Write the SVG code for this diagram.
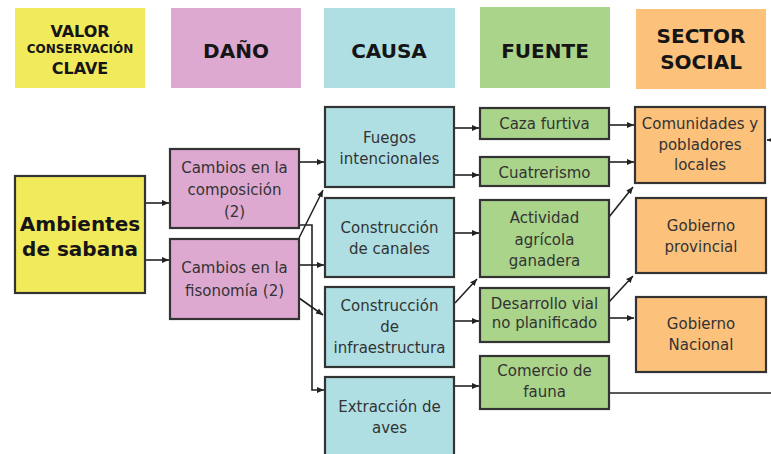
<svg xmlns="http://www.w3.org/2000/svg" width="771" height="454" viewBox="0 0 771 454">
<defs>
<marker id="ah" markerWidth="8" markerHeight="8" refX="7" refY="4" orient="auto" markerUnits="userSpaceOnUse">
<path d="M0,1 L7,4 L0,7 Z" fill="#222"/>
</marker>
<style>
.hd{font-family:"DejaVu Sans",Verdana,sans-serif;font-weight:bold;fill:#151515;text-anchor:middle}
.nd{stroke:#333;stroke-width:2.2}
.t{font-family:"DejaVu Sans",Verdana,sans-serif;font-size:15px;fill:#333;text-anchor:middle}
.y{fill:#F1EA5B}.p{fill:#DEA9D1}.c{fill:#AFDFE3}.g{fill:#A9D48A}.o{fill:#FCC17B}
.ln{fill:none;stroke:#222;stroke-width:1.6}
.ar{fill:none;stroke:#222;stroke-width:1.6;marker-end:url(#ah)}
</style>
</defs>
<rect width="771" height="454" fill="#fff"/>
<g id="headers">
<g id="h-valor"><rect x="15" y="8" width="130" height="80" class="y"/>
<text class="hd" x="80" y="37" font-size="16">VALOR</text>
<text class="hd" x="80" y="52.5" font-size="12">CONSERVACIÓN</text>
<text class="hd" x="80" y="74" font-size="16">CLAVE</text></g>
<g id="h-dano"><rect x="171" y="8" width="130" height="80" class="p"/>
<text class="hd" x="236" y="58" font-size="20">DAÑO</text></g>
<g id="h-causa"><rect x="324" y="8" width="131" height="80" class="c"/>
<text class="hd" x="389" y="58" font-size="20">CAUSA</text></g>
<g id="h-fuente"><rect x="480" y="7" width="130" height="81" class="g"/>
<text class="hd" x="545" y="58" font-size="20">FUENTE</text></g>
<g id="h-sector"><rect x="636" y="9" width="130" height="80" class="o"/>
<text class="hd" x="701" y="43" font-size="20">SECTOR</text>
<text class="hd" x="701" y="69" font-size="20">SOCIAL</text></g>
</g>
<g id="connectors">
<line class="ar" x1="145" y1="203" x2="169" y2="203"/>
<line class="ar" x1="145" y1="260" x2="169" y2="260"/>
<line class="ar" x1="299" y1="162" x2="324" y2="162"/>
<line class="ar" x1="299" y1="238" x2="323" y2="190"/>
<polyline class="ar" points="299,225 312,225 312,390 324,390"/>
<line class="ar" x1="299" y1="265" x2="324" y2="265"/>
<line class="ar" x1="299" y1="298" x2="323" y2="315"/>
<line class="ar" x1="454" y1="128" x2="479" y2="128"/>
<line class="ar" x1="454" y1="175" x2="479" y2="175"/>
<line class="ar" x1="454" y1="233" x2="479" y2="233"/>
<line class="ar" x1="455" y1="303" x2="477" y2="279"/>
<line class="ar" x1="454" y1="321" x2="479" y2="321"/>
<line class="ar" x1="454" y1="386" x2="479" y2="386"/>
<line class="ar" x1="609" y1="125" x2="634" y2="125"/>
<line class="ar" x1="609" y1="162" x2="634" y2="162"/>
<line class="ar" x1="609" y1="217" x2="633" y2="187"/>
<line class="ar" x1="609" y1="302" x2="633" y2="276"/>
<line class="ar" x1="609" y1="318" x2="634" y2="318"/>
<line class="ln" x1="609" y1="393" x2="771" y2="393"/>
<line class="ar" x1="775" y1="140" x2="767" y2="140"/>
</g>
<g id="n-ambientes"><rect x="15" y="176" width="130" height="117" class="nd y"/>
<text x="80" y="231" font-family="DejaVu Sans,Verdana,sans-serif" font-weight="bold" font-size="20" fill="#151515" text-anchor="middle">Ambientes</text>
<text x="80" y="256" font-family="DejaVu Sans,Verdana,sans-serif" font-weight="bold" font-size="20" fill="#151515" text-anchor="middle">de sabana</text></g>
<g id="n-composicion"><rect x="170" y="149" width="129" height="79" class="nd p"/>
<text class="t" x="234.5" y="173">Cambios en la</text>
<text class="t" x="234.5" y="195">composición</text>
<text class="t" x="234.5" y="217">(2)</text></g>
<g id="n-fisonomia"><rect x="170" y="239" width="129" height="80" class="nd p"/>
<text class="t" x="234.5" y="273">Cambios en la</text>
<text class="t" x="234.5" y="296">fisonomía (2)</text></g>
<g id="n-fuegos"><rect x="325" y="107" width="129" height="80" class="nd c"/>
<text class="t" x="389.5" y="143">Fuegos</text>
<text class="t" x="389.5" y="164">intencionales</text></g>
<g id="n-canales"><rect x="325" y="198" width="129" height="79" class="nd c"/>
<text class="t" x="389.5" y="233">Construcción</text>
<text class="t" x="389.5" y="254">de canales</text></g>
<g id="n-infraestructura"><rect x="325" y="287" width="129" height="80" class="nd c"/>
<text class="t" x="389.5" y="311">Construcción</text>
<text class="t" x="389.5" y="332">de</text>
<text class="t" x="389.5" y="353">infraestructura</text></g>
<g id="n-aves"><rect x="325" y="377" width="129" height="85" class="nd c"/>
<text class="t" x="389.5" y="412">Extracción de</text>
<text class="t" x="389.5" y="433">aves</text></g>
<g id="n-caza"><rect x="480" y="108" width="129" height="31" class="nd g"/>
<text class="t" x="544.5" y="129">Caza furtiva</text></g>
<g id="n-cuatrerismo"><rect x="480" y="157" width="129" height="29" class="nd g"/>
<text class="t" x="544.5" y="178">Cuatrerismo</text></g>
<g id="n-actividad"><rect x="480" y="200" width="129" height="77" class="nd g"/>
<text class="t" x="544.5" y="223">Actividad</text>
<text class="t" x="544.5" y="245">agrícola</text>
<text class="t" x="544.5" y="266">ganadera</text></g>
<g id="n-vial"><rect x="480" y="288" width="129" height="54" class="nd g"/>
<text class="t" x="544.5" y="309">Desarrollo vial</text>
<text class="t" x="544.5" y="328">no planificado</text></g>
<g id="n-comercio"><rect x="480" y="356" width="129" height="53" class="nd g"/>
<text class="t" x="544.5" y="376">Comercio de</text>
<text class="t" x="544.5" y="397">fauna</text></g>
<g id="n-comunidades"><rect x="635" y="107" width="130" height="76" class="nd o"/>
<text class="t" x="700" y="129">Comunidades y</text>
<text class="t" x="700" y="150">pobladores</text>
<text class="t" x="700" y="170">locales</text></g>
<g id="n-provincial"><rect x="636" y="198" width="130" height="75" class="nd o"/>
<text class="t" x="701" y="231">Gobierno</text>
<text class="t" x="701" y="252">provincial</text></g>
<g id="n-nacional"><rect x="636" y="297" width="130" height="75" class="nd o"/>
<text class="t" x="701" y="329">Gobierno</text>
<text class="t" x="701" y="350">Nacional</text></g>
</svg>
